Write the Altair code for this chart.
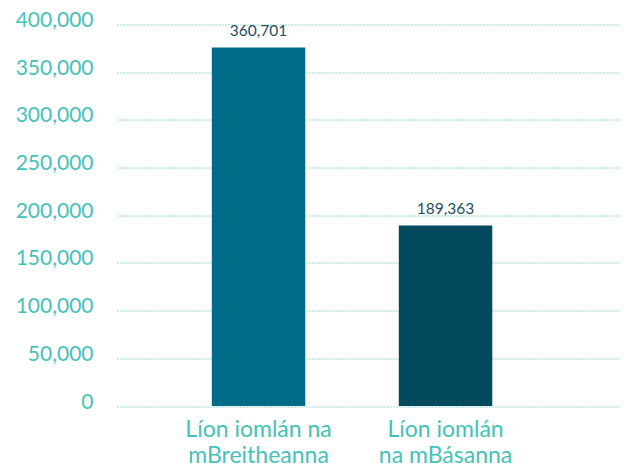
import altair as alt
import pandas as pd

categories = ["Líon iomlán na\nmBreitheanna", "Líon iomlán\nna mBásanna"]
bar_values = [376000, 189363]
label_texts = ["360,701", "189,363"]
bar_colors = ["#006C87", "#044A5E"]
y_ticks = [0, 50000, 100000, 150000, 200000, 250000, 300000, 350000, 400000]

df = pd.DataFrame({
    "cat": categories,
    "value": bar_values,
    "label": label_texts,
    "color": bar_colors,
})

x = alt.X(
    "cat:N",
    sort=categories,
    title=None,
    scale=alt.Scale(paddingInner=0.5, paddingOuter=0.595, align=0.426),
    axis=alt.Axis(
        labelAngle=0,
        labelExpr="split(datum.label, '\\n')",
        labelFont="Lato",
        labelFontSize=23,
        labelColor="#45C2B7",
        labelLineHeight=26,
        labelPadding=12,
        labelBaseline="top",
        domain=False,
        ticks=False,
        grid=False,
    ),
)

y = alt.Y(
    "value:Q",
    title=None,
    scale=alt.Scale(domain=[0, 400000], nice=False),
    axis=alt.Axis(
        values=y_ticks,
        format=",.0f",
        labelFont="Lato",
        labelFontSize=21,
        labelColor="#45C2B7",
        labelPadding=24,
        labelOffset=-4,
        domain=False,
        ticks=False,
        grid=True,
        gridColor="#2FB8AC",
        gridDash=[1, 2],
        gridWidth=1,
    ),
)

bars = alt.Chart(df).mark_bar().encode(
    x=x,
    y=y,
    color=alt.Color("color:N", scale=None),
)

text = alt.Chart(df).mark_text(
    baseline="bottom", dy=-8, font="Lato", fontSize=15.5, color="#1E4E60"
).encode(
    x=alt.X("cat:N", sort=categories),
    y=alt.Y("value:Q"),
    text="label:N",
)

chart = (
    alt.layer(bars, text)
    .properties(
        width=503,
        height=381.5,
        autosize=alt.AutoSizeParams(type="none"),
        padding={"left": 109, "top": 16.5, "right": 0, "bottom": 60},
    )
    .configure_view(stroke=None)
)

chart.save("out.html", embed_options={"renderer": "svg", "actions": False})
